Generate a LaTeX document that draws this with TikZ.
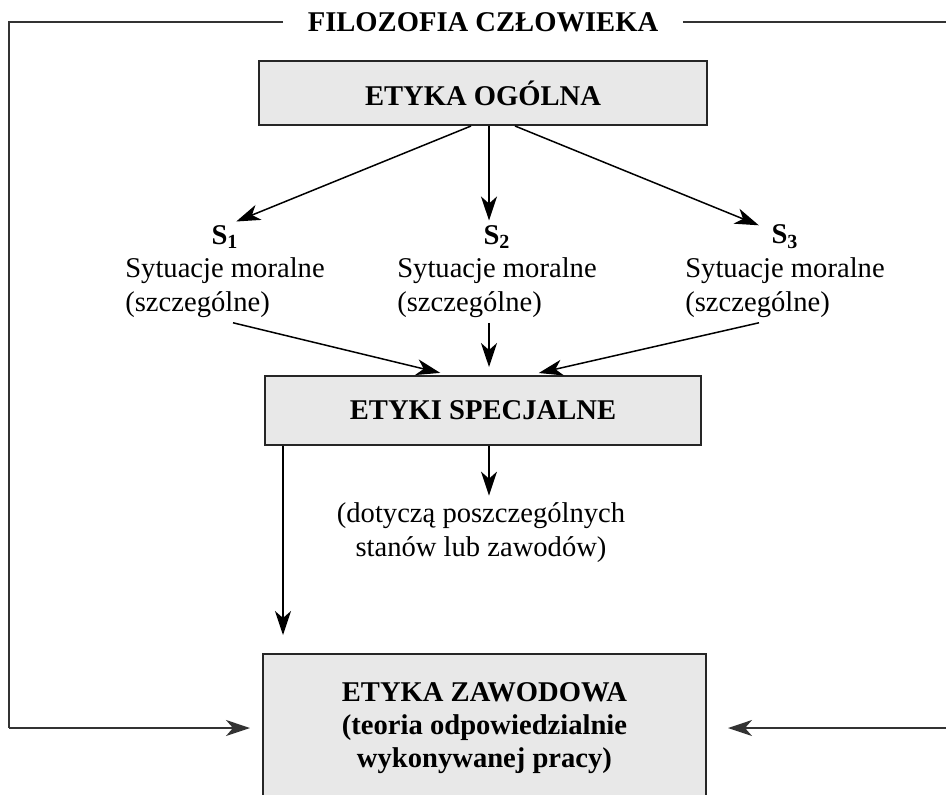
\documentclass[tikz,border=0pt]{standalone}
\usepackage{fontspec}
\setmainfont{Liberation Serif}
\usetikzlibrary{arrows.meta, positioning}

\begin{document}
\begin{tikzpicture}[x=0.5pt,y=-0.5pt,line width=0.75pt,
		font=\fontsize{14.3pt}{17pt}\selectfont,
		>={Stealth[length=12pt,width=8pt,inset=3.5pt]}]
		\tikzstyle{etbox}=[draw=black!85,line width=1pt,fill=black!9,align=center,font=\fontsize{14.3pt}{16.3pt}\selectfont\bfseries]
		\tikzstyle{sit}=[align=left,inner sep=2pt]
		\tikzstyle{slab}=[inner sep=2pt,font=\fontsize{14.3pt}{17pt}\selectfont\bfseries]
		
		\useasboundingbox (0,0) rectangle (946,794);
		\clip (0,0) rectangle (946,794);
		
		\node[font=\fontsize{14.3pt}{17pt}\selectfont\bfseries,inner xsep=12pt] (tytul) at (483,22) {FILOZOFIA CZŁOWIEKA};
		\node[etbox,minimum width=224pt,minimum height=32pt] (ogolna) at (483,93) {ETYKA OGÓLNA};
		\node[etbox,minimum width=218pt,minimum height=34.5pt] (specjalne) at (483,410.5) {ETYKI SPECJALNE};
		\node[etbox,minimum width=221.5pt,minimum height=74pt] (zawodowa) at (484.5,728) {ETYKA ZAWODOWA\\(teoria odpowiedzialnie\\wykonywanej pracy)};
		
		\node[sit] (sit1) at (225,288) {Sytuacje moralne\\(szczególne)};
		\node[sit] (sit2) at (497,288) {Sytuacje moralne\\(szczególne)};
		\node[sit] (sit3) at (785,288) {Sytuacje moralne\\(szczególne)};
		\node[slab] (s1) [above=0pt of sit1] {S\textsubscript{1}};
		\node[slab] (s2) [above=0pt of sit2] {S\textsubscript{2}};
		\node[slab] (s3) [above=0pt of sit3] {S\textsubscript{3}};
		
		\node[align=center] (dot) at (481,533) {(dotyczą poszczególnych\\stanów lub zawodów)};
		
		\coordinate (lg) at (9,22);
		\coordinate (ld) at (9,728);
		\coordinate (pg) at (946,22);
		\coordinate (pd) at (946,728);
		
		% rama
		\draw[black!80] (tytul.west) -- (lg) -- (ld);
		\draw[black!80] (tytul.east) -- (pg);
		\draw[->,black!80,shorten >=6pt] (ld) -- (zawodowa.west);
		\draw[->,black!80,shorten >=10.5pt] (pd) -- (zawodowa.east);
		
		\path[->]
		([xshift=-6pt]ogolna.south) edge ([xshift=-3.5pt,yshift=-0.5pt]s1.north east)
		([xshift=3pt]ogolna.south) edge ([xshift=3pt]ogolna.south |- s2.north)
		([xshift=16pt]ogolna.south) edge ([xshift=-4pt,yshift=-2.5pt]s3.north west)
		
		([xshift=4pt]sit1.south) edge[shorten >=4.5pt] ([xshift=-17pt]specjalne.north)
		([xshift=-4pt]sit2.south) edge[shorten >=4pt] ([xshift=3pt]specjalne.north)
		([xshift=-13pt]sit3.south) edge[shorten >=4.5pt] ([xshift=23.5pt]specjalne.north)
		
		([xshift=3pt]specjalne.south) edge ([xshift=3pt]specjalne.south |- dot.north)
		([xshift=9.5pt]specjalne.south west) edge[shorten >=9pt] ([xshift=9.5pt]specjalne.south west |- zawodowa.north);
\end{tikzpicture}
\end{document}
